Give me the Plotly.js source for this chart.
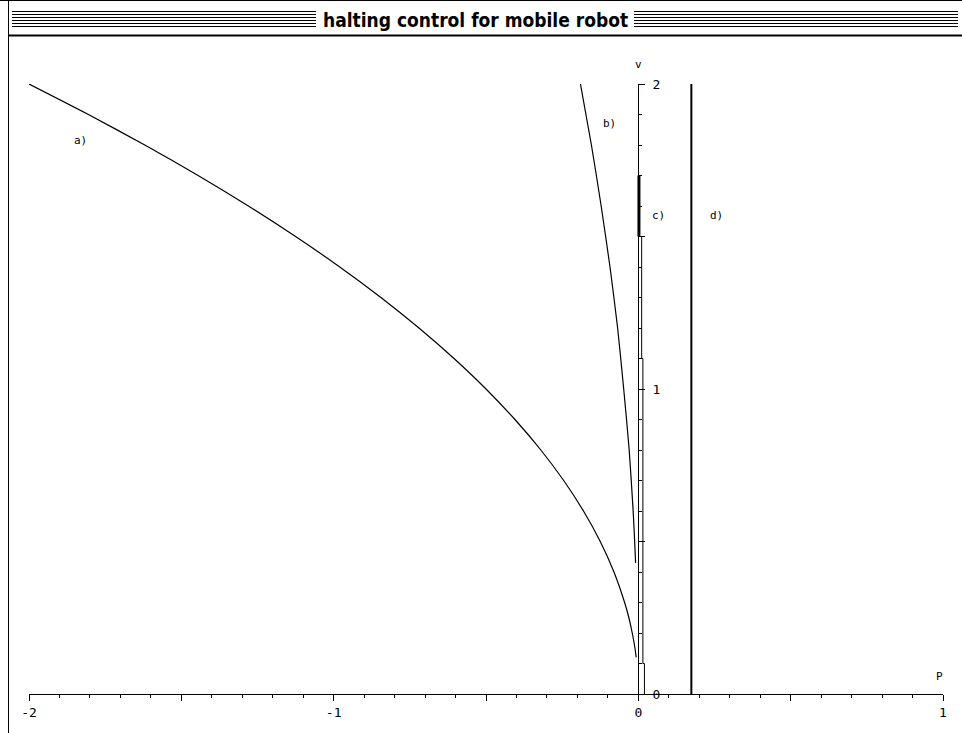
<!DOCTYPE html>
<html>
<head>
<meta charset="utf-8">
<script src="https://cdn.plot.ly/plotly-3.0.1.min.js"></script>
<style>html,body{margin:0;padding:0;background:#fff;}#chart{width:962px;height:733px;}</style>
</head>
<body>
<div id="chart"></div>
<script>
// ---- data ----
const titleText = "halting control for mobile robot";
const xTickVals = [-2, -1.5, -1, -0.5, 0, 0.5, 1];
const xTickText = ["-2", "", "-1", "", "0", "", "1"];
const yTickVals = [0, 0.5, 1, 1.5, 2];
const yTickText = ["0", "", "1", "", "2"];

// curve a)
const aP = [-2.0, -1.805, -1.62, -1.445, -1.28, -1.125, -0.98, -0.845, -0.72, -0.605, -0.5, -0.405, -0.32, -0.245, -0.18, -0.125, -0.08, -0.045, -0.031, -0.02, -0.011, -0.007];
const aV = [2.0, 1.9, 1.8, 1.7, 1.6, 1.5, 1.4, 1.3, 1.2, 1.1, 1.0, 0.9, 0.8, 0.7, 0.6, 0.5, 0.4, 0.3, 0.25, 0.2, 0.15, 0.12];
// curve b)
const bP = [-0.19, -0.154, -0.122, -0.093, -0.068, -0.048, -0.030, -0.017, -0.012, -0.009];
const bV = [2.0, 1.8, 1.6, 1.4, 1.2, 1.0, 0.8, 0.6, 0.5, 0.43];
// curve c) (thick part and stepped thin part)
const cThickP = [0.002, 0.002];
const cThickV = [1.7, 1.5];
const cP = [0.002, 0.011, 0.011, 0.015, 0.015, 0.020, 0.020];
const cV = [1.5, 1.5, 1.1, 1.1, 0.1, 0.1, 0.0];
// curve d)
const dP = [0.174, 0.174];
const dV = [0.0, 2.0];

const labels = [
  {text: "a)", p: -1.83, v: 1.816},
  {text: "b)", p: -0.095, v: 1.87},
  {text: "c)", p: 0.066, v: 1.57},
  {text: "d)", p: 0.256, v: 1.57}
];

// ---- layout geometry (pixels) ----
const W = 962, H = 733;
const L = 29, R = 943, T = 84, B = 694;
const X = px => (px - L) / (R - L);
const Y = py => (B - py) / (B - T);

const traces = [
  {x: aP, y: aV, mode: "lines", line: {color: "black", width: 1.2, shape: "spline", smoothing: 0.6}, cliponaxis: false},
  {x: bP, y: bV, mode: "lines", line: {color: "black", width: 1.2, shape: "spline", smoothing: 0.6}, cliponaxis: false},
  {x: cThickP, y: cThickV, mode: "lines", line: {color: "black", width: 3}, cliponaxis: false},
  {x: cP, y: cV, mode: "lines", line: {color: "black", width: 1}, cliponaxis: false},
  {x: dP, y: dV, mode: "lines", line: {color: "black", width: 2}, cliponaxis: false}
];

const shapes = [];
// window border
shapes.push({type: "line", xref: "paper", yref: "paper", x0: X(0), x1: X(W), y0: Y(0.5), y1: Y(0.5), line: {color: "black", width: 1}});
shapes.push({type: "line", xref: "paper", yref: "paper", x0: X(8.5), x1: X(8.5), y0: Y(0), y1: Y(H), line: {color: "black", width: 1}});
shapes.push({type: "line", xref: "paper", yref: "paper", x0: X(8), x1: X(W), y0: Y(35.5), y1: Y(35.5), line: {color: "black", width: 2}});
// title stripes
for (let i = 0; i < 6; i++) {
  const yy = 11.5 + i * 3;
  shapes.push({type: "line", xref: "paper", yref: "paper", x0: X(12), x1: X(316), y0: Y(yy), y1: Y(yy), line: {color: "black", width: 1}});
  shapes.push({type: "line", xref: "paper", yref: "paper", x0: X(634), x1: X(958), y0: Y(yy), y1: Y(yy), line: {color: "black", width: 1}});
}

const monoFont = {family: "DejaVu Sans Mono, Liberation Mono, monospace", size: 11, color: "black"};
const ann = (o) => Object.assign({showarrow: false, xanchor: "center", yanchor: "middle"}, o);
const annotations = labels.map(l => ann({
  x: l.p, y: l.v, xref: "x", yref: "y", text: l.text, font: monoFont
}));
annotations.push(ann({x: X(475), y: Y(20), xref: "paper", yref: "paper", text: "<b>" + titleText + "</b>",
  font: {family: "Liberation Sans Narrow, DejaVu Sans Condensed, sans-serif", size: 19, color: "black"}}));
annotations.push(ann({x: 0, y: Y(65), xref: "x", yref: "paper", text: "v", font: monoFont}));
annotations.push(ann({x: 0.99, y: 0.058, xref: "x", yref: "y", text: "P", font: monoFont}));

const tickFont = {family: "DejaVu Sans Mono, Liberation Mono, monospace", size: 13, color: "black"};
const layout = {
  width: W, height: H,
  margin: {l: L, r: W - R, t: T, b: H - B, pad: 0},
  paper_bgcolor: "white", plot_bgcolor: "white",
  showlegend: false,
  xaxis: {
    range: [-2, 1], showgrid: false, zeroline: false, showline: true, linecolor: "black", linewidth: 1,
    ticks: "outside", ticklen: 6, tickcolor: "black", tickwidth: 1,
    tickmode: "array", tickvals: xTickVals, ticktext: xTickText, tickfont: tickFont,
    minor: {tickmode: "linear", tick0: 0, dtick: 0.1, ticks: "outside", ticklen: 3, tickcolor: "black", tickwidth: 1, showgrid: false},
    fixedrange: true
  },
  yaxis: {
    range: [0, 2], showgrid: false, zeroline: false, showline: true, linecolor: "black", linewidth: 1,
    anchor: "free", position: X(638), side: "right",
    ticks: "outside", ticklen: 6, tickcolor: "black", tickwidth: 1, ticklabelstandoff: 5,
    tickmode: "array", tickvals: yTickVals, ticktext: yTickText, tickfont: tickFont,
    minor: {tickmode: "linear", tick0: 0, dtick: 0.1, ticks: "outside", ticklen: 3, tickcolor: "black", tickwidth: 1, showgrid: false},
    fixedrange: true
  },
  shapes: shapes,
  annotations: annotations
};

Plotly.newPlot("chart", traces, layout, {displayModeBar: false, staticPlot: true});
</script>
</body>
</html>
